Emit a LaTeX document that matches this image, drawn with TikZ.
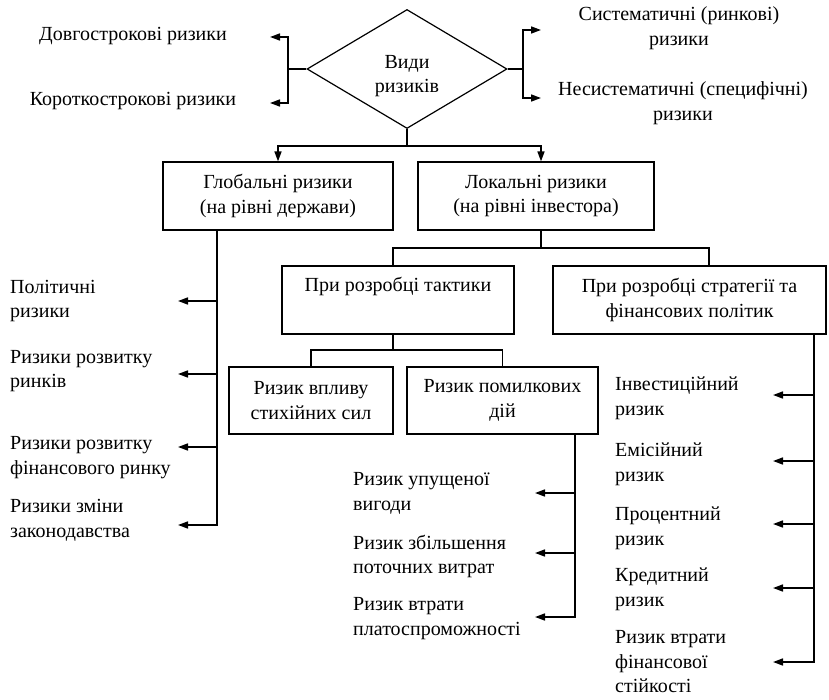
\documentclass[tikz,border=0pt]{standalone}
\usepackage{fontspec}
\setmainfont{Liberation Serif}
\usetikzlibrary{shapes.geometric,arrows.meta,calc}
\begin{document}
\begin{tikzpicture}[x=1pt,y=-1pt,
  every node/.style={font=\fontsize{20}{24.5}\selectfont},
  box/.style={draw,line width=1.2pt,inner sep=0pt,align=center},
  lbl/.style={inner sep=0pt,align=left,anchor=west},
  clbl/.style={inner sep=0pt,align=center},
  ln/.style={line width=1.3pt},
  arr/.style={line width=1.6pt,-{Triangle[length=10pt,width=7pt]}}]
\useasboundingbox (0,0) rectangle (829,700);

% diamond
\node[draw,diamond,line width=1.2pt,minimum width=200pt,minimum height=119pt,inner sep=0pt] (vid) at (407,69) {};
\node[clbl] (vidt) at (407,76) {Види\\ризиків};

% top labels
\node[clbl] (dovg) at (133,36) {Довгострокові ризики};
\node[clbl] (korot) at (133,101) {Короткострокові ризики};
\node[clbl] (syst) at (679,28) {Систематичні (ринкові)\\ризики};
\node[clbl] (nesyst) at (683,103) {Несистематичні (специфічні)\\ризики};

\coordinate (lj) at (288,69);
\coordinate (dt) at (270,37);
\coordinate (kt) at (270,103);
\coordinate (rj) at (523,69);
\coordinate (st) at (541,30);
\coordinate (nt) at (541,98);
\draw[ln] (vid.west) -- (lj);
\draw[arr] (lj) |- (dt);
\draw[arr] (lj) |- (kt);
\draw[ln] (vid.east) -- (rj);
\draw[arr] (rj) |- (st);
\draw[arr] (rj) |- (nt);

% level 2 boxes
\node[box,minimum width=230pt,minimum height=68pt] (glob) at (278,196) {Глобальні ризики\\(на рівні держави)};
\node[box,minimum width=236pt,minimum height=68pt] (loc) at (536,196) {Локальні ризики\\(на рівні інвестора)};

\coordinate (j0) at (407,146);
\coordinate (lx) at (541,0);
\draw[ln] (vid.south) -- (j0);
\draw[arr] (j0) -| (glob.north);
\draw[arr] (j0) -| (loc.north -| lx);

% global branch
\coordinate (gx) at (217,0);
\coordinate (g1) at (178,301);
\coordinate (g2) at (178,374);
\coordinate (g3) at (178,447);
\coordinate (g4) at (178,525);
\draw[arr] (glob.south -| gx) |- (g4);
\draw[arr] (gx |- g1) -- (g1);
\draw[arr] (gx |- g2) -- (g2);
\draw[arr] (gx |- g3) -- (g3);
\node[lbl] (pol) at (10,301) {Політичні\\ризики};
\node[lbl] (rozv) at (10,371) {Ризики розвитку\\ринків};
\node[lbl] (fin) at (10,457.5) {Ризики розвитку\\фінансового ринку};
\node[lbl] (zak) at (10,520.5) {Ризики зміни\\законодавства};

% level 3
\node[box,minimum width=232pt,minimum height=68pt] (tact) at (398,300) {При розробці тактики\\\strut};
\node[box,minimum width=273pt,minimum height=68pt] (strat) at (689.5,300) {При розробці стратегії та\\фінансових політик};
\coordinate (j1) at (541,248);
\coordinate (tx) at (393,0);
\coordinate (sx) at (709,0);
\draw[ln] (loc.south -| lx) -- (j1);
\draw[ln] (tact.north -| tx) |- (j1) -| (strat.north -| sx);

% level 4
\node[box,minimum width=164pt,minimum height=67pt] (stich) at (311,400.5) {Ризик впливу\\стихійних сил};
\node[box,minimum width=191pt,minimum height=67pt] (err) at (502.5,400.5) {Ризик помилкових\\дій};
\coordinate (j2) at (393,350);
\draw[ln] (tact.south -| tx) -- (j2);
\draw[ln] (stich.north) |- (j2) -| (err.north);

% errors branch
\coordinate (ex) at (575,0);
\coordinate (e1) at (535,493);
\coordinate (e2) at (535,553);
\coordinate (e3) at (535,617);
\draw[arr] (err.south -| ex) |- (e3);
\draw[arr] (ex |- e1) -- (e1);
\draw[arr] (ex |- e2) -- (e2);
\node[lbl] (upush) at (353,493.5) {Ризик упущеної\\вигоди};
\node[lbl] (zbil) at (353,556.5) {Ризик збільшення\\поточних витрат};
\node[lbl] (platos) at (353,618.5) {Ризик втрати\\платоспроможності};

% strategy branch
\coordinate (sv) at (814,0);
\coordinate (s1) at (773,395);
\coordinate (s2) at (773,461);
\coordinate (s3) at (773,524);
\coordinate (s4) at (773,588);
\coordinate (s5) at (773,662);
\draw[arr] (strat.south -| sv) |- (s5);
\draw[arr] (sv |- s1) -- (s1);
\draw[arr] (sv |- s2) -- (s2);
\draw[arr] (sv |- s3) -- (s3);
\draw[arr] (sv |- s4) -- (s4);
\node[lbl] (inv) at (615,398.5) {Інвестиційний\\ризик};
\node[lbl] (emis) at (615,464.5) {Емісійний\\ризик};
\node[lbl] (proc) at (615,528.5) {Процентний\\ризик};
\node[lbl] (kred) at (615,589.5) {Кредитний\\ризик};
\node[lbl] (stiik) at (615,662) {Ризик втрати\\фінансової\\стійкості};
\end{tikzpicture}
\end{document}
